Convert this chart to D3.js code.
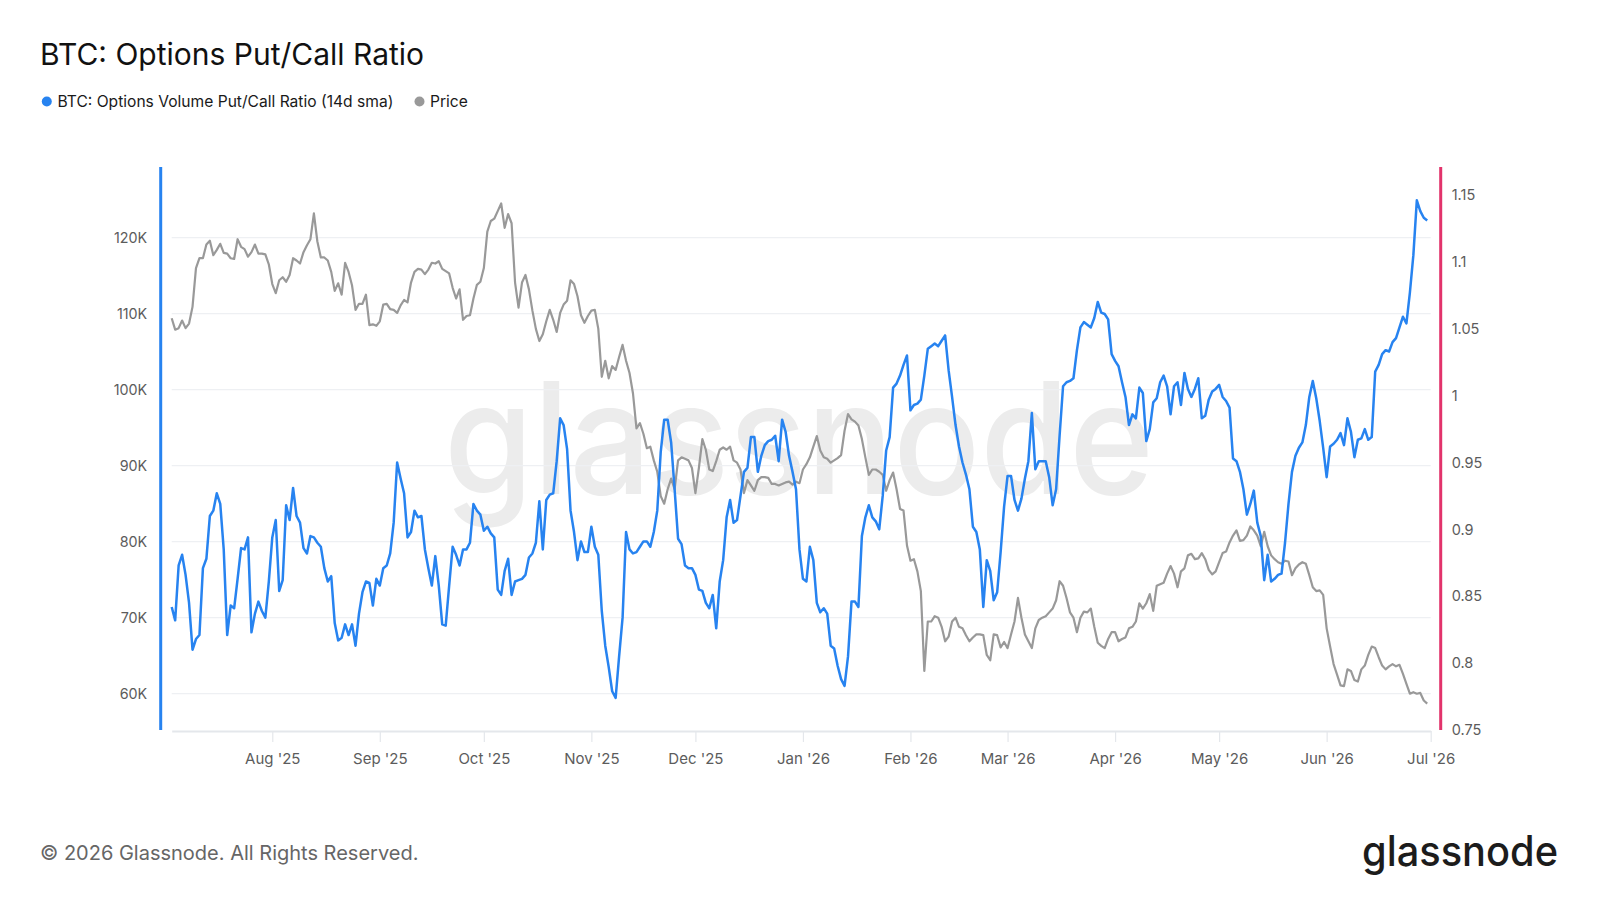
<!DOCTYPE html>
<html>
<head>
<meta charset="utf-8">
<title>BTC: Options Put/Call Ratio</title>
<script src="https://cdn.jsdelivr.net/npm/d3@7"></script>
<style>
  body { margin: 0; background: #fff; }
  svg text { font-family: Inter, "Noto Sans", sans-serif; }
</style>
</head>
<body>
<svg id="chart" width="1600" height="900"></svg>
<script>
// ---- data (daily, first value is startDate) ----
const startDate = "2025-07-03";
const endDate = "2026-07-01";

// BTC price in USD thousands
const priceK = [
  109.4,107.9,108.1,109.1,108.1,108.7,110.9,116.0,117.3,117.3,
  119.1,119.6,117.7,118.4,119.2,118.0,117.9,117.3,117.2,119.8,
  118.8,118.5,117.5,118.1,119.1,117.9,117.9,117.8,116.5,113.9,
  112.7,114.4,114.8,114.2,115.1,117.3,117.0,116.6,118.1,119.0,
  119.8,123.2,119.5,117.4,117.4,117.0,115.5,113.0,114.0,112.5,
  116.7,115.5,113.7,110.5,111.3,111.3,112.5,108.5,108.6,108.4,
  109.0,111.2,111.3,110.6,110.5,110.1,111.1,111.8,111.5,114.1,
  115.5,115.9,115.8,115.2,115.8,116.7,116.6,116.9,115.9,115.6,
  115.3,113.4,112.0,113.2,109.2,109.7,109.8,112.0,113.8,114.2,
  116.0,120.8,122.2,122.5,123.5,124.5,121.3,123.1,121.9,114.1,
  110.8,114.1,115.1,113.2,110.4,108.0,106.4,107.3,109.0,110.5,
  109.2,107.6,110.1,111.2,111.7,114.4,113.9,112.3,109.8,108.8,
  109.7,110.4,110.5,108.0,101.7,103.8,101.5,103.1,102.6,104.3,
  105.9,103.8,102.2,99.5,94.9,95.6,94.2,92.3,92.5,90.7,
  89.2,86.0,85.0,86.9,88.3,86.9,90.7,91.1,90.9,90.7,
  89.7,86.4,89.7,93.5,92.1,89.5,89.3,90.6,92.1,92.4,
  92.1,92.5,90.7,90.4,89.5,86.4,88.1,87.4,86.7,88.1,
  88.5,88.5,88.4,87.6,87.6,87.4,87.6,87.8,87.9,87.5,
  87.9,87.7,89.5,90.2,91.1,92.5,93.9,92.0,91.1,90.9,
  90.4,90.7,91.0,91.4,94.6,96.8,96.1,95.8,95.3,93.5,
  91.1,88.8,89.5,89.5,89.2,88.8,86.7,88.1,89.1,86.9,
  84.3,84.1,79.5,77.5,77.7,76.1,73.5,63.0,69.5,69.5,
  70.2,70.0,68.8,66.9,67.5,69.5,70.0,68.8,68.6,67.7,
  66.9,67.4,67.8,67.8,67.7,65.1,64.4,67.8,67.7,66.1,
  66.8,66.0,67.8,69.5,72.6,70.0,67.8,66.9,66.0,68.6,
  69.7,70.0,70.2,70.7,71.2,72.3,74.8,74.2,72.6,70.7,
  70.0,68.1,70.0,70.8,70.7,71.2,68.8,66.7,66.3,66.0,
  67.2,68.1,68.1,66.9,67.2,67.4,68.6,68.8,69.5,71.9,
  71.2,71.9,73.1,70.9,74.2,74.4,74.6,75.8,76.8,75.8,
  74.0,76.1,76.5,78.2,78.4,77.7,77.8,78.5,77.7,76.3,
  75.7,76.1,77.3,78.5,78.7,79.9,80.8,81.5,80.1,80.2,
  80.8,82.0,81.5,80.8,79.4,81.3,79.4,78.2,77.7,77.3,
  77.1,77.5,77.4,75.6,76.5,77.0,77.3,77.1,75.6,74.0,
  73.5,73.6,73.0,68.6,66.2,63.9,62.5,61.1,61.0,63.2,
  63.0,61.8,61.6,63.2,63.7,65.1,66.2,66.0,64.8,63.7,
  63.2,63.6,63.9,63.6,63.8,62.6,61.3,60.0,60.2,60.0,
  60.1,59.1,58.7
];

// options volume put/call ratio (14d sma)
const putCallRatio = [
  0.842,0.832,0.873,0.881,0.866,0.845,0.810,0.818,0.821,0.871,
  0.878,0.910,0.914,0.927,0.919,0.885,0.821,0.843,0.841,0.863,
  0.886,0.885,0.894,0.823,0.837,0.846,0.839,0.834,0.861,0.894,
  0.907,0.854,0.862,0.918,0.907,0.931,0.910,0.905,0.886,0.882,
  0.895,0.894,0.890,0.887,0.871,0.861,0.865,0.830,0.817,0.819,
  0.829,0.821,0.829,0.813,0.837,0.853,0.861,0.860,0.843,0.863,
  0.858,0.871,0.873,0.882,0.905,0.950,0.938,0.927,0.894,0.898,
  0.914,0.909,0.910,0.885,0.871,0.858,0.880,0.858,0.829,0.828,
  0.858,0.887,0.881,0.873,0.885,0.885,0.890,0.919,0.914,0.911,
  0.899,0.902,0.897,0.894,0.855,0.851,0.869,0.878,0.851,0.861,
  0.862,0.863,0.866,0.879,0.882,0.890,0.921,0.885,0.922,0.926,
  0.927,0.951,0.983,0.978,0.960,0.914,0.898,0.877,0.891,0.883,
  0.883,0.902,0.887,0.881,0.839,0.813,0.797,0.779,0.774,0.805,
  0.834,0.898,0.885,0.882,0.883,0.887,0.891,0.891,0.887,0.898,
  0.914,0.958,0.982,0.982,0.965,0.930,0.893,0.889,0.873,0.871,
  0.871,0.866,0.855,0.854,0.845,0.841,0.851,0.826,0.861,0.877,
  0.909,0.922,0.905,0.907,0.925,0.943,0.946,0.969,0.969,0.943,
  0.955,0.963,0.966,0.967,0.970,0.951,0.982,0.973,0.955,0.943,
  0.930,0.885,0.863,0.861,0.887,0.877,0.845,0.838,0.841,0.837,
  0.813,0.811,0.798,0.788,0.783,0.805,0.846,0.846,0.842,0.895,
  0.909,0.918,0.909,0.906,0.900,0.925,0.959,0.969,1.006,1.009,
  1.015,1.023,1.030,0.989,0.993,0.994,0.997,1.015,1.035,1.037,
  1.039,1.037,1.041,1.045,1.019,0.999,0.978,0.962,0.950,0.941,
  0.930,0.902,0.898,0.885,0.842,0.877,0.869,0.847,0.853,0.883,
  0.917,0.940,0.940,0.922,0.914,0.923,0.938,0.951,0.987,0.945,
  0.951,0.951,0.951,0.939,0.918,0.930,0.970,1.007,1.010,1.011,
  1.013,1.034,1.051,1.055,1.053,1.051,1.058,1.070,1.062,1.061,
  1.057,1.031,1.026,1.022,1.010,0.999,0.978,0.986,0.983,1.006,
  1.002,0.966,0.975,0.995,0.998,1.010,1.015,1.007,0.986,1.007,
  1.010,0.993,1.017,1.005,0.999,1.005,1.013,0.983,0.985,0.997,
  1.003,1.005,1.008,0.999,0.996,0.991,0.953,0.951,0.943,0.930,
  0.911,0.919,0.929,0.905,0.895,0.862,0.881,0.861,0.863,0.866,
  0.867,0.890,0.919,0.943,0.955,0.961,0.965,0.978,0.999,1.011,
  0.998,0.981,0.961,0.939,0.962,0.964,0.967,0.972,0.963,0.983,
  0.973,0.954,0.967,0.968,0.975,0.967,0.969,1.018,1.023,1.031,
  1.034,1.033,1.040,1.043,1.051,1.059,1.054,1.077,1.105,1.146,
  1.138,1.133,1.131
];

const priceTicks = [60, 70, 80, 90, 100, 110, 120];
const ratioTicks = [0.75, 0.8, 0.85, 0.9, 0.95, 1, 1.05, 1.1, 1.15];
const monthTicks = ["2025-08-01","2025-09-01","2025-10-01","2025-11-01","2025-12-01","2026-01-01",
  "2026-02-01","2026-03-01","2026-04-01","2026-05-01","2026-06-01","2026-07-01"];

const seriesNames = ["BTC: Options Volume Put/Call Ratio (14d sma)", "Price"];
const titleText = "BTC: Options Put/Call Ratio";
const footerText = "\u00a9 2026 Glassnode. All Rights Reserved.";

// ---- colours ----
const blue = "#2783f0";
const grey = "#999999";
const pink = "#e2336b";

// ---- layout ----
const plot = { left: 171.7, right: 1430.7, top: 167, bottom: 731 };
const fontStack = "Inter, 'Noto Sans', sans-serif";

const parseDate = d3.timeParse("%Y-%m-%d");
const start = parseDate(startDate);
const dates = priceK.map((_, i) => d3.timeDay.offset(start, i));

const svg = d3.select("#chart");

// x: time
const x = d3.scaleTime()
  .domain([start, parseDate(endDate)])
  .range([plot.left, plot.right]);

// left axis: price
const yPrice = d3.scaleLinear()
  .domain([60, 120])
  .range([693.7, 237.7]);

// right axis: ratio
const yRatio = d3.scaleLinear()
  .domain([0.75, 1.15])
  .range([730, 195]);

// title
svg.append("text")
  .attr("x", 40).attr("y", 64.5)
  .attr("font-size", 30)
  .attr("fill", "#111")
  .text(titleText);

// legend
const legend = svg.append("g").attr("transform", "translate(0,101.5)");
legend.append("circle").attr("cx", 46.8).attr("cy", 0).attr("r", 5).attr("fill", blue);
legend.append("text").attr("x", 57.5).attr("y", 0).attr("dy", "0.35em")
  .attr("font-size", 15.6).attr("fill", "#1a1a1a").text(seriesNames[0]);
legend.append("circle").attr("cx", 419.5).attr("cy", 0).attr("r", 5).attr("fill", grey);
legend.append("text").attr("x", 430).attr("y", 0).attr("dy", "0.35em")
  .attr("font-size", 15.6).attr("fill", "#1a1a1a").text(seriesNames[1]);

// watermark
svg.append("text")
  .attr("x", 444).attr("y", 494)
  .attr("font-size", 156)
  .attr("font-weight", 500)
  .attr("fill", "#ececec")
  .attr("textLength", 710)
  .attr("lengthAdjust", "spacingAndGlyphs")
  .text("glassnode");

// horizontal grid from left ticks
svg.append("g")
  .selectAll("line")
  .data(priceTicks)
  .join("line")
    .attr("x1", plot.left).attr("x2", plot.right)
    .attr("y1", d => yPrice(d)).attr("y2", d => yPrice(d))
    .attr("stroke", "#eef0f3")
    .attr("stroke-width", 1.2);

// bottom axis
const xAxis = svg.append("g")
  .attr("transform", `translate(0,${plot.bottom})`)
  .call(d3.axisBottom(x)
    .tickValues(monthTicks.map(parseDate))
    .tickFormat(d3.timeFormat("%b '%y"))
    .tickSize(11)
    .tickSizeOuter(0)
    .tickPadding(11));
xAxis.select(".domain").attr("stroke", "#e4e7eb").attr("stroke-width", 2);
xAxis.selectAll(".tick line").attr("stroke", "#e4e7eb").attr("stroke-width", 1.2);
xAxis.selectAll(".tick text")
  .attr("font-family", fontStack)
  .attr("font-size", 15).attr("fill", "#5c5c5c");

// left axis
const leftAxis = svg.append("g")
  .attr("transform", "translate(160.7,0)")
  .call(d3.axisLeft(yPrice)
    .tickValues(priceTicks)
    .tickFormat(d => d + "K")
    .tickSize(0)
    .tickPadding(13.5));
leftAxis.select(".domain").remove();
leftAxis.selectAll(".tick text")
  .attr("font-family", fontStack)
  .attr("font-size", 14.3).attr("fill", "#5c5c5c");
leftAxis.append("line")
  .attr("x1", 0).attr("x2", 0)
  .attr("y1", plot.top).attr("y2", plot.bottom - 1)
  .attr("stroke", blue).attr("stroke-width", 3);

// right axis
const rightAxis = svg.append("g")
  .attr("transform", "translate(1440.7,0)")
  .call(d3.axisRight(yRatio)
    .tickValues(ratioTicks)
    .tickFormat(d3.format("~g"))
    .tickSize(0)
    .tickPadding(11));
rightAxis.select(".domain").remove();
rightAxis.selectAll(".tick text")
  .attr("font-family", fontStack)
  .attr("font-size", 14.5).attr("fill", "#5c5c5c");
rightAxis.append("line")
  .attr("x1", 0).attr("x2", 0)
  .attr("y1", plot.top).attr("y2", plot.bottom - 1)
  .attr("stroke", pink).attr("stroke-width", 3);

// price line
svg.append("path")
  .datum(priceK)
  .attr("fill", "none")
  .attr("stroke", grey)
  .attr("stroke-width", 2.2)
  .attr("stroke-linejoin", "round")
  .attr("d", d3.line()
    .x((d, i) => x(dates[i]))
    .y(d => yPrice(d)));

// put/call ratio line
svg.append("path")
  .datum(putCallRatio)
  .attr("fill", "none")
  .attr("stroke", blue)
  .attr("stroke-width", 2.5)
  .attr("stroke-linejoin", "round")
  .attr("d", d3.line()
    .x((d, i) => x(dates[i]))
    .y(d => yRatio(d)));

// footer
svg.append("text")
  .attr("x", 40).attr("y", 860)
  .attr("font-size", 20)
  .attr("fill", "#666")
  .text(footerText);

svg.append("text")
  .attr("x", 1362).attr("y", 866)
  .attr("font-size", 42)
  .attr("font-weight", 500)
  .attr("fill", "#1c1c1c")
  .attr("textLength", 196)
  .attr("lengthAdjust", "spacingAndGlyphs")
  .text("glassnode");
</script>
</body>
</html>
